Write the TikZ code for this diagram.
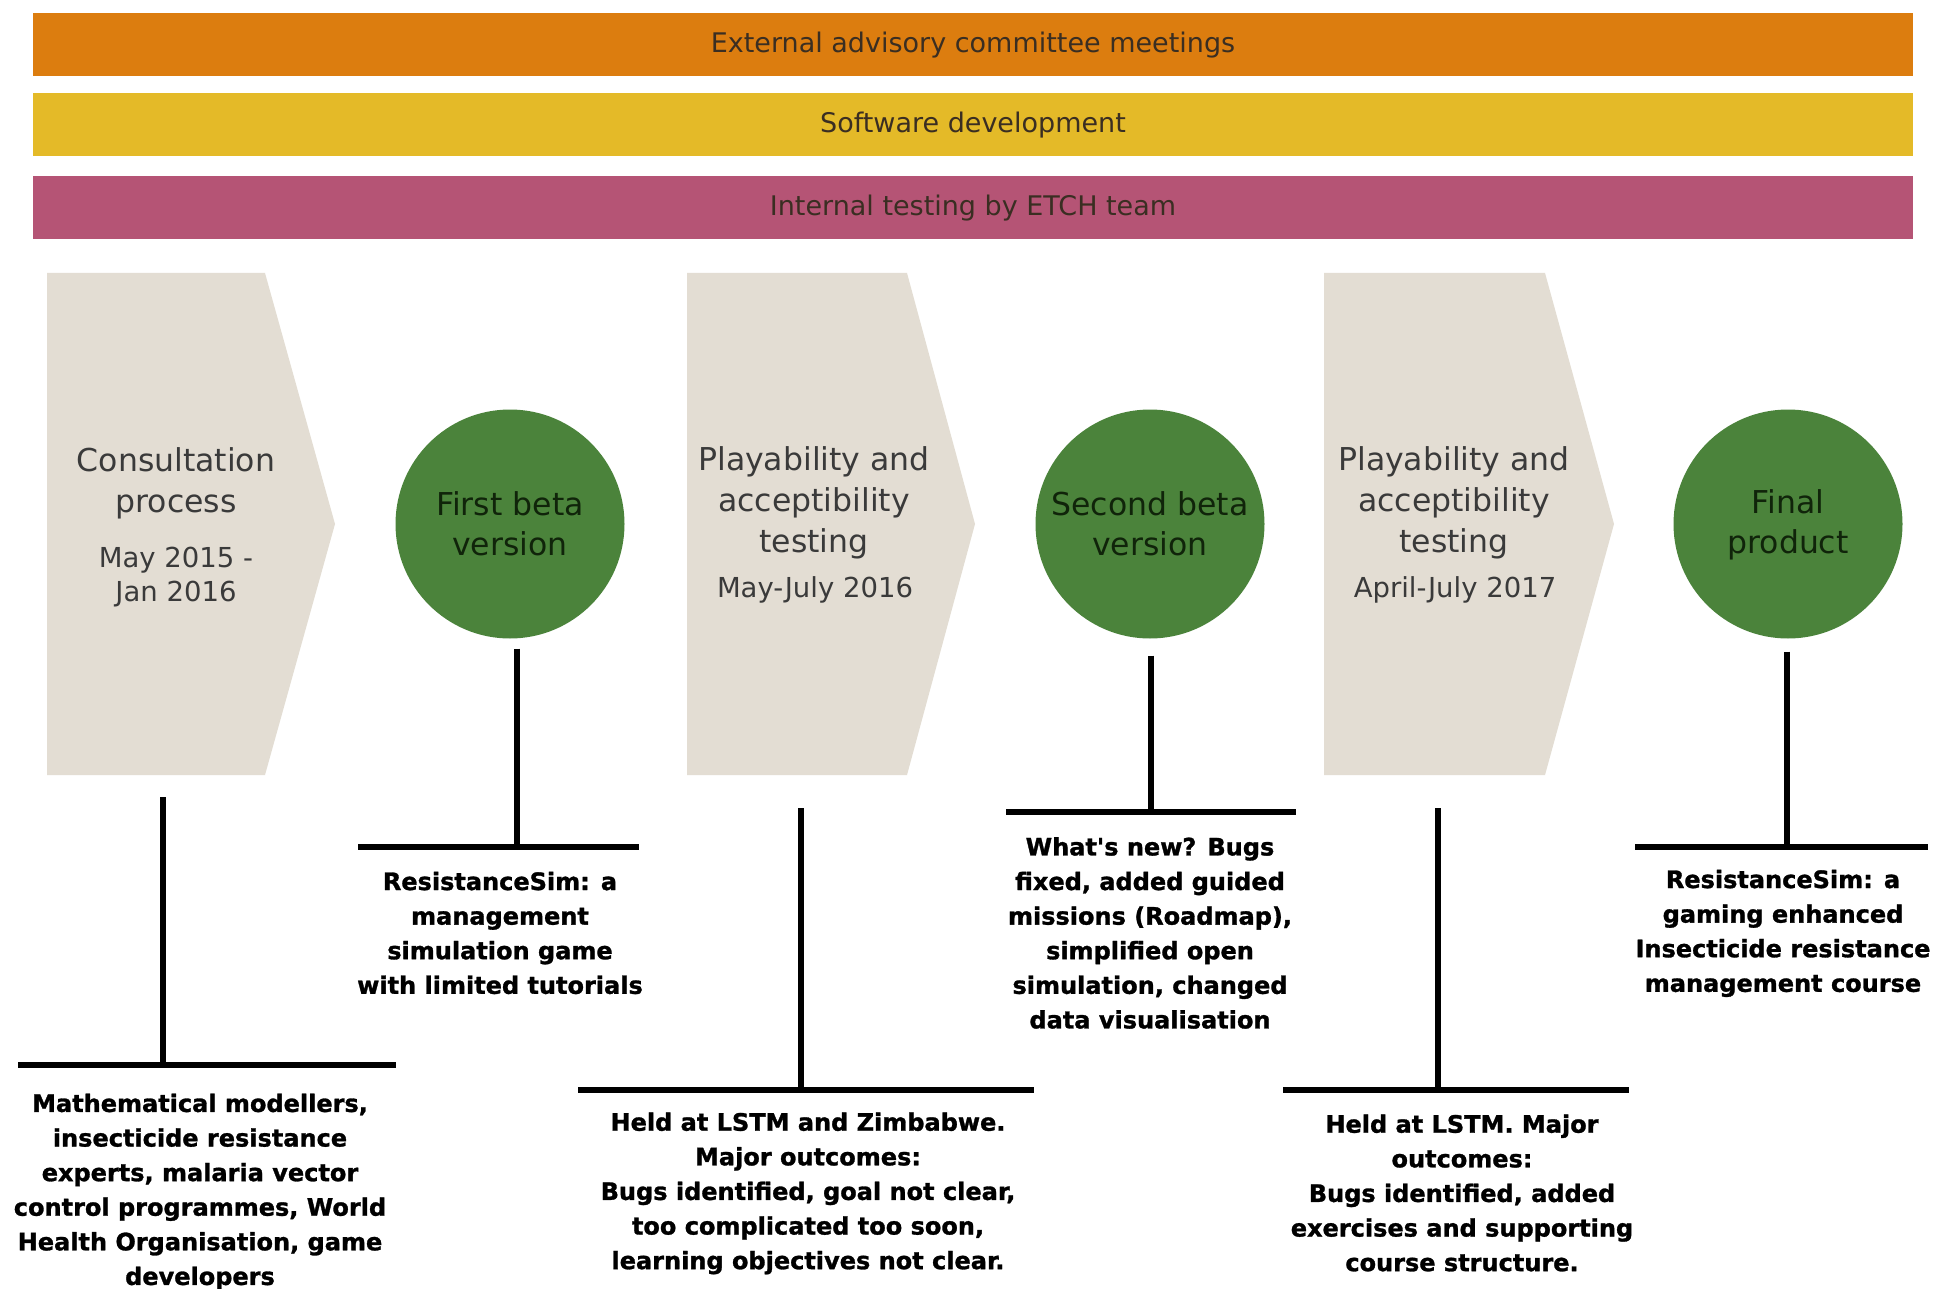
\documentclass[tikz,border=0pt]{standalone}
\usepackage{fontspec}
\setmainfont{DejaVu Sans}
\newfontfamily\heavyfont{DejaVu Sans}[BoldFeatures={FakeBold=1.2}]
\definecolor{cOrange}{HTML}{DC7D0F}
\definecolor{cYellow}{HTML}{E4BA28}
\definecolor{cPink}{HTML}{B55475}
\definecolor{cChev}{HTML}{E3DDD3}
\definecolor{cGreen}{HTML}{4B833B}
\definecolor{cGreenText}{HTML}{10240A}
\definecolor{cChevText}{HTML}{3A3A3A}
\definecolor{cBarText}{HTML}{3A2E22}
\tikzset{
  bar/.style={inner sep=0pt, minimum width=1880pt, minimum height=63pt,
    font=\fontsize{27}{32}\selectfont, text=cBarText},
  chev/.style={fill=cChev},
  ctitle/.style={align=center, inner sep=0pt, text=cChevText,
    font=\fontsize{31.5}{41}\selectfont},
  cdate/.style={align=center, inner sep=0pt, text=cChevText,
    font=\fontsize{27.5}{34}\selectfont},
  beta/.style={circle, fill=cGreen, minimum size=229pt, inner sep=0pt},
  betatext/.style={align=center, inner sep=0pt, text=cGreenText,
    font=\fontsize{31.5}{39.5}\selectfont},
  desc/.style={align=center, inner sep=0pt, text=black,
    font=\heavyfont\fontsize{24}{34.6}\selectfont\bfseries},
  vline/.style={draw=black, line width=6pt},
  hline/.style={draw=black, line width=6.5pt},
}
\begin{document}
\begin{tikzpicture}[x=1pt, y=-1pt]
\useasboundingbox[fill=white] (0,0) rectangle (1935,1289);

% top bars
\node[bar, fill=cOrange] (adv) at (973,45) {External advisory committee meetings};
\node[bar, fill=cYellow] (soft) at (973,125) {Software development};
\node[bar, fill=cPink] (intest) at (973,208) {Internal testing by ETCH team};

% chevrons
\fill[chev] (47,273) -- (265,273) -- (335,524) -- (265,775) -- (47,775) -- cycle;
\fill[chev] (687,273) -- (907,273) -- (975,524) -- (907,775) -- (687,775) -- cycle;
\fill[chev] (1324,273) -- (1545,273) -- (1614,524) -- (1545,775) -- (1324,775) -- cycle;

\node[ctitle] (t1) at (176,484) {\strut Consultation\\process\strut};
\node[cdate] (dt1) at (176,577.5) {\strut May 2015 -\\Jan 2016\strut};
\node[ctitle] (t2) at (814,503.5) {\strut Playability and\\acceptibility\\testing\strut};
\node[cdate] (dt2) at (815,589.5) {May-July 2016};
\node[ctitle] (t3) at (1454,503.5) {\strut Playability and\\acceptibility\\testing\strut};
\node[cdate] (dt3) at (1455,589.5) {April-July 2017};

% circles
\node[beta] (b1) at (510,524) {};
\node[beta] (b2) at (1150,524) {};
\node[beta] (b3) at (1788,524) {};
\node[betatext] (b1t) at (510,527.5) {\strut First beta\\version\strut};
\node[betatext] (b2t) at (1150,527.5) {\strut Second beta\\version\strut};
\node[betatext] (b3t) at (1788,525.5) {\strut Final\\product\strut};

% anchor points of connectors
\coordinate (ch1) at (163,797);
\coordinate (ch2) at (801,808);
\coordinate (ch3) at (1438,808);
\coordinate (h1) at (163,1065);
\coordinate (h2) at (517,847);
\coordinate (h3) at (801,1090);
\coordinate (h4) at (1151,812);
\coordinate (h5) at (1438,1090);
\coordinate (h6) at (1787,847);

% horizontal bars above descriptions
\draw[hline] (18,1065) -- (396,1065);
\draw[hline] (358,847) -- (639,847);
\draw[hline] (578,1090) -- (1034,1090);
\draw[hline] (1006,812) -- (1296,812);
\draw[hline] (1283,1090) -- (1629,1090);
\draw[hline] (1635,847) -- (1928,847);

% vertical connectors
\draw[vline] (ch1) -- (h1);
\draw[vline] ([xshift=7pt,yshift=-10pt]b1.south) -- (h2);
\draw[vline] (ch2) -- (h3);
\draw[vline] ([xshift=1pt,yshift=-17pt]b2.south) -- (h4);
\draw[vline] (ch3) -- (h5);
\draw[vline] ([xshift=-1pt,yshift=-13pt]b3.south) -- (h6);

% descriptions
\node[desc] (d1) at (200,1191.5) {\strut Mathematical modellers,\\insecticide resistance\\experts, malaria vector\\control programmes, World\\Health Organisation, game\\developers\strut};
\node[desc] (d2) at (500,935) {\strut ResistanceSim: a\\management\\simulation game\\with limited tutorials\strut};
\node[desc] (d3) at (808,1193) {\strut Held at LSTM and Zimbabwe.\\Major outcomes:\\Bugs identified, goal not clear,\\too complicated too soon,\\learning objectives not clear.\strut};
\node[desc] (d4) at (1150,935) {\strut What's new? Bugs\\fixed, added guided\\missions (Roadmap),\\simplified open\\simulation, changed\\data visualisation\strut};
\node[desc] (d5) at (1462,1195) {\strut Held at LSTM. Major\\outcomes:\\Bugs identified, added\\exercises and supporting\\course structure.\strut};
\node[desc] (d6) at (1783,933) {\strut ResistanceSim: a\\gaming enhanced\\Insecticide resistance\\management course\strut};
\end{tikzpicture}
\end{document}
